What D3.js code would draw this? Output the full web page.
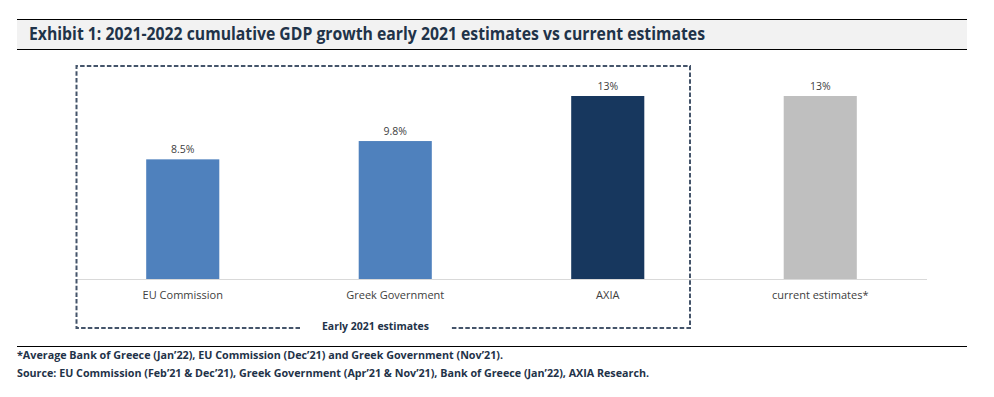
<!DOCTYPE html>
<meta charset="UTF-8">
<style>
  body { margin: 0; background: #fff; }
  text { font-family: "Open Sans", sans-serif; }
</style>
<svg width="994" height="397"></svg>
<script src="https://cdn.jsdelivr.net/npm/d3@7"></script>
<script>

var categories = ["EU Commission", "Greek Government", "AXIA", "current estimates*"],
    values = [8.5, 9.8, 13, 13],
    valueLabels = ["8.5%", "9.8%", "13%", "13%"],
    barColors = ["#4f81bd", "#4f81bd", "#17375e", "#bfbfbf"];

var title = "Exhibit 1: 2021-2022 cumulative GDP growth early 2021 estimates vs current estimates",
    groupLabel = "Early 2021 estimates",
    notes = [
      "*Average Bank of Greece (Jan\u201922), EU Commission (Dec\u201921) and Greek Government (Nov\u201921).",
      "Source: EU Commission (Feb\u201921 & Dec\u201921), Greek Government (Apr\u201921 & Nov\u201921), Bank of Greece (Jan\u201922), AXIA Research."
    ];

var svg = d3.select("svg"),
    navy = "#1f3349";

// title bar
svg.append("rect").attr("x", 17).attr("y", 19).attr("width", 950).attr("height", 30).attr("fill", "#f2f2f2");
svg.append("line").attr("x1", 17).attr("x2", 967).attr("y1", 19.5).attr("y2", 19.5).attr("stroke", "#000").attr("stroke-width", 1.2);
svg.append("line").attr("x1", 17).attr("x2", 967).attr("y1", 49.5).attr("y2", 49.5).attr("stroke", "#000").attr("stroke-width", 1.2);
svg.append("text").attr("x", 29).attr("y", 40)
    .attr("font-size", 17.5).attr("font-weight", "bold").attr("fill", navy)
    .attr("textLength", 676).attr("lengthAdjust", "spacingAndGlyphs")
    .text(title);

// scales
var x = d3.scaleBand()
    .domain(categories)
    .range([76.5, 926.5])
    .paddingInner(0.656)
    .paddingOuter(0.328);

var y = d3.scaleLinear()
    .domain([0, 13])
    .range([279, 96]);

var g = svg.append("g");

g.selectAll("rect.bar")
  .data(values)
  .join("rect")
    .attr("class", "bar")
    .attr("x", (d, i) => x(categories[i]))
    .attr("width", x.bandwidth())
    .attr("y", d => y(d))
    .attr("height", d => y(0) - y(d))
    .attr("fill", (d, i) => barColors[i]);

g.selectAll("text.val")
  .data(values)
  .join("text")
    .attr("class", "val")
    .attr("x", (d, i) => x(categories[i]) + x.bandwidth() / 2)
    .attr("y", d => y(d) - 6)
    .attr("text-anchor", "middle")
    .attr("font-size", 10.5)
    .attr("fill", "#404040")
    .text((d, i) => valueLabels[i]);

// category axis
var xAxis = d3.axisBottom(x).tickSize(0).tickPadding(12);
var ax = svg.append("g").attr("transform", "translate(0," + y(0) + ")").call(xAxis);
ax.select(".domain").attr("stroke", "#d9d9d9").attr("stroke-width", 1.2);
ax.selectAll("text").attr("font-size", 11).attr("fill", "#404040")
    .attr("font-family", "Open Sans, sans-serif");

// dashed group box around early estimates
var boxL = 76.5, boxR = 690, boxT = 66, boxB = 328,
    gapL = 300, gapR = 451,
    dash = "4.5,2.2", boxColor = "#44546a";
var boxPath = d3.path();
boxPath.moveTo(gapL, boxB); boxPath.lineTo(boxL, boxB); boxPath.lineTo(boxL, boxT);
boxPath.lineTo(boxR, boxT); boxPath.lineTo(boxR, boxB); boxPath.lineTo(gapR, boxB);
svg.append("path").attr("d", boxPath.toString())
    .attr("fill", "none").attr("stroke", boxColor).attr("stroke-width", 2)
    .attr("stroke-dasharray", dash);
svg.append("text").attr("x", (gapL + gapR) / 2).attr("y", boxB + 1.5)
    .attr("text-anchor", "middle").attr("font-size", 10.5).attr("font-weight", "bold")
    .attr("fill", navy)
    .attr("textLength", 107).attr("lengthAdjust", "spacingAndGlyphs")
    .text(groupLabel);

// footnotes
svg.append("line").attr("x1", 17).attr("x2", 967).attr("y1", 346.5).attr("y2", 346.5).attr("stroke", "#000").attr("stroke-width", 1.2);
svg.selectAll("text.note")
  .data(notes)
  .join("text")
    .attr("class", "note")
    .attr("x", 17)
    .attr("y", (d, i) => 358.5 + i * 18)
    .attr("font-size", 10.5)
    .attr("font-weight", "bold")
    .attr("fill", navy)
    .attr("textLength", (d, i) => [486, 632][i])
    .attr("lengthAdjust", "spacingAndGlyphs")
    .text(d => d);
</script>
